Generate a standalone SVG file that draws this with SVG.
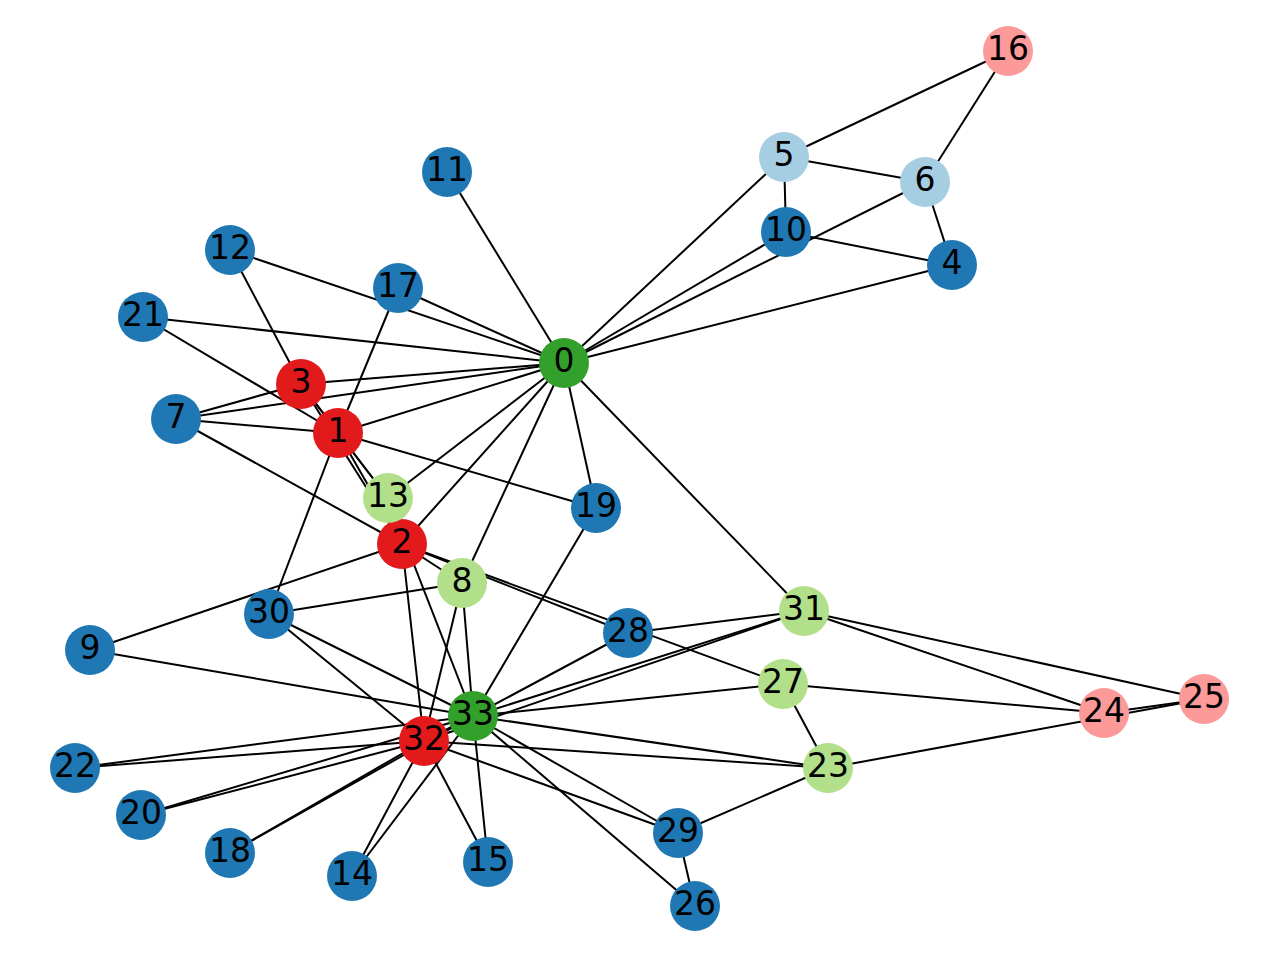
<svg xmlns="http://www.w3.org/2000/svg" width="1280" height="960" viewBox="0 0 1280 960">
<style>
.e line{stroke:#000;stroke-width:2}
circle{r:25px}
text{font-family:"DejaVu Sans","Liberation Sans",sans-serif;font-size:33px;fill:#000;text-anchor:middle}
.db{fill:#1f78b4}.lb{fill:#a6cee3}.lg{fill:#b2df8a}.dg{fill:#33a02c}.pk{fill:#fb9a99}.rd{fill:#e31a1c}
</style>
<rect width="1280" height="960" fill="#fff"/>
<g id="edges" class="e">
<line x1="564" y1="363" x2="338" y2="433"/>
<line x1="564" y1="363" x2="402" y2="544"/>
<line x1="564" y1="363" x2="301" y2="384"/>
<line x1="564" y1="363" x2="952" y2="265"/>
<line x1="564" y1="363" x2="784" y2="157"/>
<line x1="564" y1="363" x2="925" y2="182"/>
<line x1="564" y1="363" x2="176" y2="419"/>
<line x1="564" y1="363" x2="462" y2="583"/>
<line x1="564" y1="363" x2="786" y2="232"/>
<line x1="564" y1="363" x2="447" y2="172"/>
<line x1="564" y1="363" x2="230" y2="250"/>
<line x1="564" y1="363" x2="388" y2="498"/>
<line x1="564" y1="363" x2="398" y2="288"/>
<line x1="564" y1="363" x2="596" y2="508"/>
<line x1="564" y1="363" x2="143" y2="317"/>
<line x1="564" y1="363" x2="804" y2="611"/>
<line x1="338" y1="433" x2="402" y2="544"/>
<line x1="338" y1="433" x2="301" y2="384"/>
<line x1="338" y1="433" x2="176" y2="419"/>
<line x1="338" y1="433" x2="388" y2="498"/>
<line x1="338" y1="433" x2="398" y2="288"/>
<line x1="338" y1="433" x2="596" y2="508"/>
<line x1="338" y1="433" x2="143" y2="317"/>
<line x1="338" y1="433" x2="269" y2="614"/>
<line x1="402" y1="544" x2="301" y2="384"/>
<line x1="402" y1="544" x2="176" y2="419"/>
<line x1="402" y1="544" x2="462" y2="583"/>
<line x1="402" y1="544" x2="90" y2="650"/>
<line x1="402" y1="544" x2="388" y2="498"/>
<line x1="402" y1="544" x2="783" y2="684"/>
<line x1="402" y1="544" x2="628" y2="633"/>
<line x1="402" y1="544" x2="424" y2="741"/>
<line x1="301" y1="384" x2="176" y2="419"/>
<line x1="301" y1="384" x2="230" y2="250"/>
<line x1="301" y1="384" x2="388" y2="498"/>
<line x1="952" y1="265" x2="925" y2="182"/>
<line x1="952" y1="265" x2="786" y2="232"/>
<line x1="784" y1="157" x2="925" y2="182"/>
<line x1="784" y1="157" x2="786" y2="232"/>
<line x1="784" y1="157" x2="1008" y2="51"/>
<line x1="925" y1="182" x2="1008" y2="51"/>
<line x1="462" y1="583" x2="269" y2="614"/>
<line x1="462" y1="583" x2="424" y2="741"/>
<line x1="462" y1="583" x2="473" y2="716"/>
<line x1="90" y1="650" x2="473" y2="716"/>
<line x1="388" y1="498" x2="473" y2="716"/>
<line x1="352" y1="876" x2="424" y2="741"/>
<line x1="352" y1="876" x2="473" y2="716"/>
<line x1="488" y1="862" x2="424" y2="741"/>
<line x1="488" y1="862" x2="473" y2="716"/>
<line x1="230" y1="853" x2="424" y2="741"/>
<line x1="230" y1="853" x2="473" y2="716"/>
<line x1="596" y1="508" x2="473" y2="716"/>
<line x1="141" y1="815" x2="424" y2="741"/>
<line x1="141" y1="815" x2="473" y2="716"/>
<line x1="75" y1="768" x2="424" y2="741"/>
<line x1="75" y1="768" x2="473" y2="716"/>
<line x1="828" y1="768" x2="1204" y2="699"/>
<line x1="828" y1="768" x2="783" y2="684"/>
<line x1="828" y1="768" x2="678" y2="833"/>
<line x1="828" y1="768" x2="424" y2="741"/>
<line x1="828" y1="768" x2="473" y2="716"/>
<line x1="1104" y1="713" x2="1204" y2="699"/>
<line x1="1104" y1="713" x2="783" y2="684"/>
<line x1="1104" y1="713" x2="804" y2="611"/>
<line x1="1204" y1="699" x2="804" y2="611"/>
<line x1="695" y1="906" x2="678" y2="833"/>
<line x1="695" y1="906" x2="473" y2="716"/>
<line x1="783" y1="684" x2="473" y2="716"/>
<line x1="628" y1="633" x2="804" y2="611"/>
<line x1="628" y1="633" x2="473" y2="716"/>
<line x1="678" y1="833" x2="424" y2="741"/>
<line x1="678" y1="833" x2="473" y2="716"/>
<line x1="269" y1="614" x2="424" y2="741"/>
<line x1="269" y1="614" x2="473" y2="716"/>
<line x1="804" y1="611" x2="424" y2="741"/>
<line x1="804" y1="611" x2="473" y2="716"/>
<line x1="424" y1="741" x2="473" y2="716"/>
</g>
<g id="node0"><circle class="dg" cx="564" cy="363"/><text x="564" y="372">0</text></g>
<g id="node1"><circle class="rd" cx="338" cy="433"/><text x="338" y="442">1</text></g>
<g id="node2"><circle class="rd" cx="402" cy="544"/><text x="402" y="553">2</text></g>
<g id="node3"><circle class="rd" cx="301" cy="384"/><text x="301" y="393">3</text></g>
<g id="node4"><circle class="db" cx="952" cy="265"/><text x="952" y="274">4</text></g>
<g id="node5"><circle class="lb" cx="784" cy="157"/><text x="784" y="166">5</text></g>
<g id="node6"><circle class="lb" cx="925" cy="182"/><text x="925" y="191">6</text></g>
<g id="node7"><circle class="db" cx="176" cy="419"/><text x="176" y="428">7</text></g>
<g id="node8"><circle class="lg" cx="462" cy="583"/><text x="462" y="592">8</text></g>
<g id="node9"><circle class="db" cx="90" cy="650"/><text x="90" y="659">9</text></g>
<g id="node10"><circle class="db" cx="786" cy="232"/><text x="786" y="241">10</text></g>
<g id="node11"><circle class="db" cx="447" cy="172"/><text x="447" y="181">11</text></g>
<g id="node12"><circle class="db" cx="230" cy="250"/><text x="230" y="259">12</text></g>
<g id="node13"><circle class="lg" cx="388" cy="498"/><text x="388" y="507">13</text></g>
<g id="node14"><circle class="db" cx="352" cy="876"/><text x="352" y="885">14</text></g>
<g id="node15"><circle class="db" cx="488" cy="862"/><text x="488" y="871">15</text></g>
<g id="node16"><circle class="pk" cx="1008" cy="51"/><text x="1008" y="60">16</text></g>
<g id="node17"><circle class="db" cx="398" cy="288"/><text x="398" y="297">17</text></g>
<g id="node18"><circle class="db" cx="230" cy="853"/><text x="230" y="862">18</text></g>
<g id="node19"><circle class="db" cx="596" cy="508"/><text x="596" y="517">19</text></g>
<g id="node20"><circle class="db" cx="141" cy="815"/><text x="141" y="824">20</text></g>
<g id="node21"><circle class="db" cx="143" cy="317"/><text x="143" y="326">21</text></g>
<g id="node22"><circle class="db" cx="75" cy="768"/><text x="75" y="777">22</text></g>
<g id="node23"><circle class="lg" cx="828" cy="768"/><text x="828" y="777">23</text></g>
<g id="node24"><circle class="pk" cx="1104" cy="713"/><text x="1104" y="722">24</text></g>
<g id="node25"><circle class="pk" cx="1204" cy="699"/><text x="1204" y="708">25</text></g>
<g id="node26"><circle class="db" cx="695" cy="906"/><text x="695" y="915">26</text></g>
<g id="node27"><circle class="lg" cx="783" cy="684"/><text x="783" y="693">27</text></g>
<g id="node28"><circle class="db" cx="628" cy="633"/><text x="628" y="642">28</text></g>
<g id="node29"><circle class="db" cx="678" cy="833"/><text x="678" y="842">29</text></g>
<g id="node30"><circle class="db" cx="269" cy="614"/><text x="269" y="623">30</text></g>
<g id="node31"><circle class="lg" cx="804" cy="611"/><text x="804" y="620">31</text></g>
<g id="node32"><circle class="rd" cx="424" cy="741"/><text x="424" y="750">32</text></g>
<g id="node33"><circle class="dg" cx="473" cy="716"/><text x="473" y="725">33</text></g>
</svg>
